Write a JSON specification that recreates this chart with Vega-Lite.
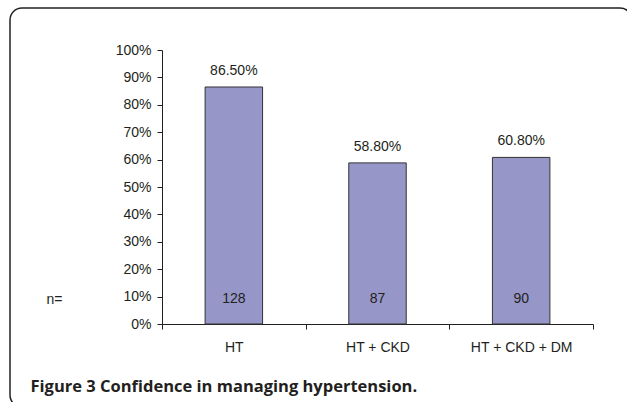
{
  "$schema": "https://vega.github.io/schema/vega-lite/v6.json",
  "width": 622,
  "height": 399,
  "autosize": {"type": "none"},
  "padding": {"left": 10, "top": 8, "right": 0, "bottom": 0},
  "background": "white",
  "config": {
    "view": {"stroke": "#222222", "strokeWidth": 1.5, "cornerRadius": 12},
    "font": "Liberation Sans",
    "axis": {"labelFont": "Liberation Sans", "labelFontSize": 14, "labelColor": "#231f20", "domainColor": "#231f20", "tickColor": "#231f20", "grid": false, "labelOverlap": false}
  },
  "data": {
    "values": [
      {"group": "HT", "pct": 0.865, "n": 128},
      {"group": "HT + CKD", "pct": 0.588, "n": 87},
      {"group": "HT + CKD + DM", "pct": 0.608, "n": 90}
    ]
  },
  "resolve": {"axis": {"y": "independent"}},
  "encoding": {
    "x": {
      "field": "group",
      "type": "nominal",
      "sort": null,
      "scale": {"range": [152, 583], "paddingInner": 0, "paddingOuter": 0},
      "axis": {
        "offset": -83,
        "labelAngle": 0,
        "tickBand": "extent",
        "tickSize": 5,
        "labelPadding": 11,
        "title": "Figure 3 Confidence in managing hypertension.",
        "titleFont": "Open Sans",
        "titleFontWeight": "bold",
        "titleFontSize": 16.5,
        "titleColor": "#231f20",
        "titleX": 20,
        "titleY": 67,
        "titleAlign": "left",
        "titleBaseline": "alphabetic",
        "titleAnchor": null
      }
    }
  },
  "layer": [
    {
      "mark": {"type": "bar", "width": {"band": 0.4}, "fill": "#9696c8", "stroke": "#333333", "strokeWidth": 1},
      "encoding": {
        "y": {
          "field": "pct",
          "type": "quantitative",
          "scale": {"domain": [0, 1], "range": [316, 42], "nice": false},
          "axis": {
            "offset": -152,
            "format": ".0%",
            "values": [0, 0.1, 0.2, 0.3, 0.4, 0.5, 0.6, 0.7, 0.8, 0.9, 1],
            "tickCount": 20,
            "labelOverlap": false,
            "tickSize": 5,
            "labelPadding": 6,
            "title": "n=",
            "titleAngle": 0,
            "titleFont": "Liberation Sans",
            "titleFontWeight": "normal",
            "titleFontSize": 14,
            "titleColor": "#231f20",
            "titleX": -108,
            "titleY": 291,
            "titleAlign": "center",
            "titleBaseline": "middle"
          }
        }
      }
    },
    {
      "mark": {"type": "text", "baseline": "middle", "dy": -16, "fontSize": 14, "color": "#231f20", "font": "Liberation Sans"},
      "encoding": {
        "y": {"field": "pct", "type": "quantitative", "axis": null},
        "text": {"field": "pct", "type": "quantitative", "format": ".2%"}
      }
    },
    {
      "mark": {"type": "text", "baseline": "middle", "fontSize": 14, "color": "#231f20", "font": "Liberation Sans"},
      "encoding": {
        "y": {"datum": 0.091, "type": "quantitative", "axis": null},
        "text": {"field": "n", "type": "quantitative"}
      }
    }
  ]
}
